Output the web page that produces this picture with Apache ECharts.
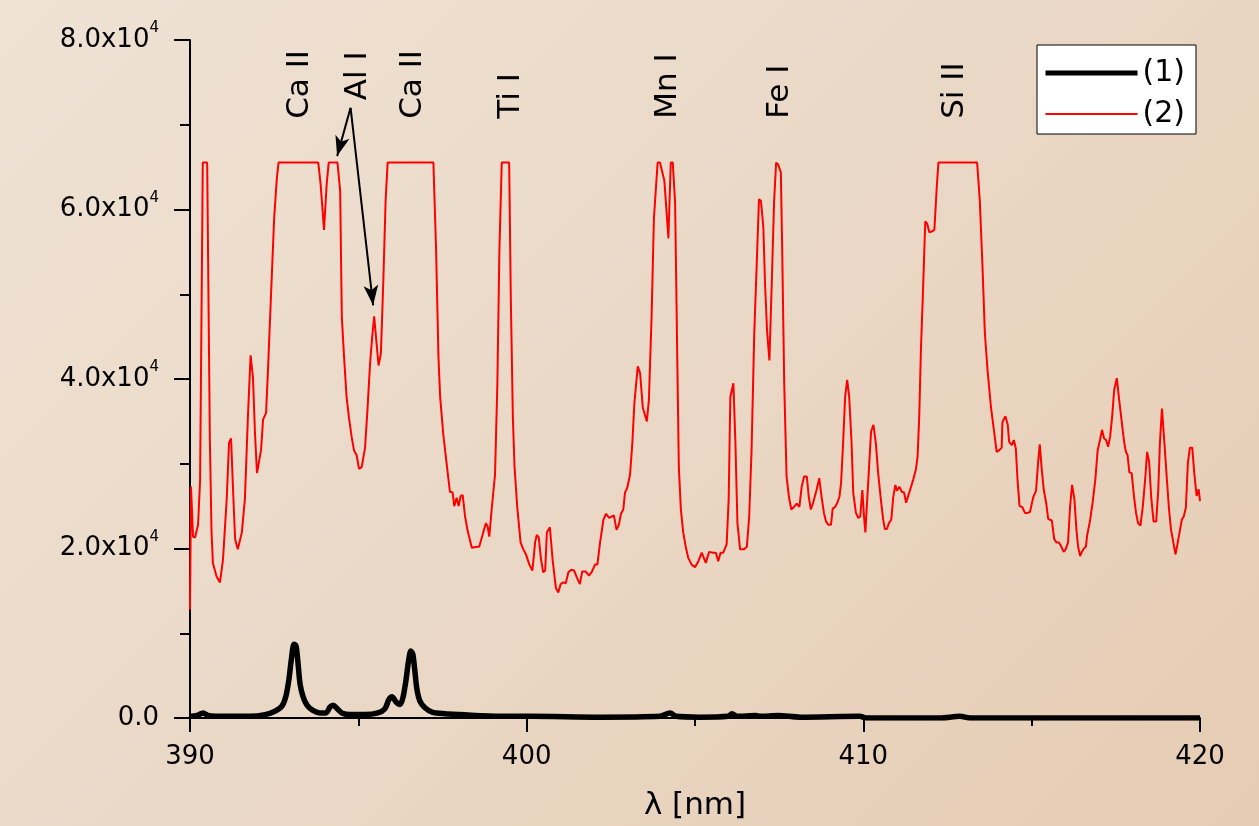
<!DOCTYPE html>
<html>
<head>
<meta charset="utf-8">
<script src="https://cdn.jsdelivr.net/npm/echarts@6/dist/echarts.min.js"></script>
<style>
html, body { margin: 0; padding: 0; }
#chart {
    width: 1259px;
    height: 826px;
    background: linear-gradient(135deg, #efe2d4 0%, #ead8c6 50%, #e6ccb3 100%);
}
</style>
</head>
<body>
<div id="chart"></div>
<script>
// spectrum (1): [wavelength nm, intensity]
var spectrum1 = [
    [390.00,200],[390.21,300],[390.39,600],[390.53,300],[390.74,200],[391.19,200],[391.78,200],
    [392.23,400],[392.52,800],[392.73,1400],[392.85,2600],[392.94,4600],[393.01,6900],[393.09,8700],
    [393.15,8500],[393.21,6400],[393.27,4000],[393.36,2500],[393.48,1500],[393.65,900],[393.86,600],
    [394.04,600],[394.16,1300],[394.25,1500],[394.37,1100],[394.51,600],[394.75,400],[395.20,400],
    [395.58,600],[395.79,1100],[395.91,2200],[396.00,2500],[396.12,1900],[396.24,1600],[396.33,2500],
    [396.42,4600],[396.49,6700],[396.56,7900],[396.62,7500],[396.68,5500],[396.74,3400],[396.83,2000],
    [396.98,1200],[397.19,700],[397.57,500],[398.02,400],[399.21,200],[400.10,200],[402.18,100],
    [403.96,200],[404.26,600],[404.44,200],[405.15,100],[405.98,200],[406.10,500],[406.25,200],
    [406.81,300],[406.93,200],[407.47,300],[408.12,100],[409.90,200],[410.08,0],[412.28,0],
    [412.87,200],[413.17,0],[414.06,0],[417.03,0],[420.00,0]
];

// spectrum (2): saturates at 65535
var spectrum2 = [
    [390.00,12800],[390.03,27300],[390.09,21400],[390.15,21300],[390.24,22800],[390.30,28100],[390.38,65535],
    [390.51,65535],[390.59,32800],[390.64,21900],[390.68,18300],[390.79,16700],[390.89,16000],[390.98,18700],
    [391.09,25800],[391.16,32500],[391.22,33000],[391.27,27800],[391.34,21100],[391.42,19900],[391.54,21900],
    [391.63,25800],[391.72,35500],[391.80,42800],[391.87,40200],[391.93,33600],[391.99,28900],[392.11,31600],
    [392.17,35200],[392.26,36000],[392.32,41400],[392.40,49300],[392.50,59000],[392.58,63700],[392.63,65535],
    [393.81,65535],[393.88,63000],[393.98,57600],[394.06,63000],[394.12,65535],[394.38,65535],[394.46,62200],
    [394.51,47300],[394.57,43000],[394.65,37900],[394.72,35500],[394.80,33200],[394.87,31600],[394.95,31000],
    [395.02,29400],[395.10,29600],[395.20,31900],[395.27,36300],[395.35,41900],[395.41,44900],[395.47,47400],
    [395.52,47200],[395.60,41600],[395.67,43000],[395.74,51300],[395.81,61000],[395.87,65535],[397.23,65535],
    [397.31,55200],[397.38,42600],[397.43,37900],[397.52,33600],[397.62,30100],[397.72,26700],[397.80,26600],
    [397.85,25000],[397.92,26000],[397.98,25000],[398.04,26200],[398.10,26300],[398.17,23800],[398.24,22200],
    [398.37,20100],[398.41,19900],[398.52,20200],[398.59,20200],[398.63,20100],[398.71,21900],[398.79,23000],
    [398.84,22600],[398.89,21400],[398.96,24600],[399.06,28700],[399.13,39500],[399.19,55200],[399.26,65535],
    [399.48,65535],[399.53,49300],[399.59,35500],[399.64,29600],[399.72,24900],[399.82,20700],[399.90,19900],
    [399.98,19300],[400.08,18100],[400.17,17400],[400.25,20700],[400.30,21600],[400.36,21300],[400.42,18900],
    [400.49,17200],[400.55,17400],[400.60,21900],[400.69,22500],[400.77,18700],[400.87,15300],[400.94,14800],
    [401.01,15800],[401.09,16000],[401.16,15900],[401.24,17200],[401.32,17500],[401.41,17400],[401.49,16600],
    [401.58,15800],[401.65,17300],[401.75,17300],[401.85,16800],[401.93,17200],[402.03,18100],[402.10,18100],
    [402.18,20700],[402.28,23400],[402.36,24100],[402.45,23600],[402.59,23900],[402.67,22200],[402.74,22800],
    [402.80,24100],[402.87,24600],[402.92,26600],[402.99,27200],[403.07,28700],[403.14,32500],[403.20,37200],
    [403.30,41500],[403.37,40700],[403.45,36600],[403.57,35000],[403.63,37500],[403.71,47300],[403.78,59000],
    [403.89,65535],[403.96,65535],[404.09,63400],[404.21,56600],[404.28,65535],[404.34,65535],[404.41,60700],
    [404.47,43400],[404.52,29600],[404.58,24600],[404.65,21900],[404.73,20100],[404.80,18900],[404.90,18100],
    [405.00,17800],[405.10,18500],[405.20,19500],[405.25,19500],[405.32,18300],[405.42,19600],[405.54,19500],
    [405.62,19500],[405.69,18500],[405.76,19500],[405.84,19500],[405.94,20500],[406.00,25800],[406.05,37900],
    [406.14,39500],[406.20,32500],[406.26,23000],[406.34,19900],[406.46,19900],[406.54,20200],[406.61,23800],
    [406.68,31600],[406.76,45400],[406.83,53200],[406.90,61200],[406.96,61000],[407.03,57900],[407.08,51300],
    [407.14,45700],[407.21,42200],[407.28,51300],[407.35,61000],[407.41,65535],[407.47,65300],[407.55,64400],
    [407.59,55200],[407.65,39500],[407.72,28500],[407.79,26100],[407.86,24600],[407.94,24900],[408.02,25300],
    [408.10,24900],[408.17,27300],[408.24,28500],[408.32,28500],[408.38,26100],[408.44,24600],[408.51,25400],
    [408.61,26900],[408.69,28300],[408.76,26100],[408.83,24200],[408.89,23200],[408.96,22800],[409.04,22800],
    [409.09,24700],[409.16,24900],[409.23,25400],[409.29,26100],[409.34,27800],[409.40,32500],[409.46,37900],
    [409.52,39900],[409.58,37900],[409.65,32500],[409.70,26600],[409.78,24200],[409.85,23600],[409.91,23800],
    [409.97,26900],[410.02,23800],[410.06,21900],[410.12,26100],[410.17,29600],[410.23,33800],[410.30,34600],
    [410.37,32500],[410.44,28900],[410.52,25800],[410.59,23400],[410.64,22300],[410.70,22300],[410.76,23000],
    [410.83,23400],[410.89,26100],[410.95,27500],[411.00,26800],[411.07,27300],[411.14,26700],[411.21,26600],
    [411.27,25400],[411.34,26300],[411.41,27200],[411.48,28100],[411.56,29300],[411.61,30800],[411.66,35500],
    [411.71,43400],[411.78,51300],[411.84,58600],[411.90,58300],[411.96,57300],[412.03,57400],[412.11,57600],
    [412.18,62600],[412.23,65535],[413.38,65535],[413.46,61000],[413.54,53200],[413.61,45400],[413.69,41000],
    [413.79,36700],[413.89,33600],[413.96,31400],[414.04,31600],[414.11,31900],[414.13,34900],[414.22,35600],
    [414.29,34600],[414.33,32600],[414.41,32200],[414.47,32800],[414.53,31800],[414.58,28100],[414.64,25000],
    [414.72,24900],[414.80,24200],[414.88,24200],[414.95,24300],[414.99,24200],[415.05,26100],[415.13,26800],
    [415.19,30100],[415.24,32300],[415.30,29300],[415.36,26900],[415.43,25400],[415.49,23500],[415.60,23300],
    [415.67,21100],[415.74,20700],[415.81,20700],[415.87,20300],[415.95,19600],[416.01,19900],[416.08,20700],
    [416.14,24900],[416.20,27500],[416.27,25800],[416.33,22200],[416.38,20200],[416.44,19100],[416.49,19600],
    [416.55,20000],[416.61,20200],[416.65,21600],[416.73,23200],[416.81,25400],[416.89,28100],[416.96,31600],
    [417.03,32800],[417.09,34000],[417.15,33000],[417.21,32800],[417.27,32000],[417.33,33200],[417.39,35500],
    [417.45,38700],[417.53,40100],[417.60,37500],[417.68,34800],[417.75,32500],[417.80,31400],[417.85,31000],
    [417.90,29000],[417.97,28900],[418.04,26100],[418.10,24200],[418.16,23000],[418.23,22700],[418.30,24900],
    [418.37,28100],[418.43,31400],[418.49,30200],[418.55,26100],[418.62,23200],[418.70,23200],[418.76,26900],
    [418.81,32500],[418.87,36500],[418.93,33200],[419.01,28500],[419.08,24600],[419.14,22200],[419.21,20700],
    [419.27,19300],[419.33,20500],[419.38,21600],[419.46,23400],[419.52,23800],[419.58,24800],[419.64,30100],
    [419.70,31900],[419.77,31900],[419.83,28900],[419.90,26200],[419.96,27000],[420.00,25600]
];

// line identifications
var lineNames = ['Ca II', 'Al I', 'Ca II', 'Ti I', 'Mn I', 'Fe I', 'Si II'];
var lineNm = [393.27, 394.99, 396.61, 399.53, 404.20, 407.52, 412.72];
var lineBase = [70700, 72900, 70700, 70700, 70700, 70700, 70700];

// arrows from the Al I label
var arrowFrom = [394.77, 72000];
var arrowTo = [[394.37, 66300], [395.44, 48700]];

var FONT = '"DejaVu Sans", sans-serif';

var chart = echarts.init(document.getElementById('chart'));

var options = {
    animation: false,
    textStyle: { fontFamily: FONT, color: '#000' },
    grid: { left: 190, right: 59, top: 40, bottom: 107, containLabel: false },
    legend: {
        left: 1037,
        top: 45,
        orient: 'vertical',
        backgroundColor: '#fff',
        borderColor: '#000',
        borderWidth: 1,
        borderRadius: 0,
        padding: [13, 11, 5, 6],
        itemWidth: 92,
        itemHeight: 28,
        itemGap: 11,
        itemStyle: { opacity: 0 },
        textStyle: { fontFamily: FONT, fontSize: 30, color: '#000' },
        data: [
            { name: '(1)', lineStyle: { color: '#000', width: 5 } },
            { name: '(2)', lineStyle: { color: '#ff0000', width: 2 } }
        ]
    },
    xAxis: {
        type: 'value',
        min: 390,
        max: 420,
        interval: 10,
        name: 'λ [nm]',
        nameLocation: 'middle',
        nameGap: 72,
        nameTextStyle: { fontFamily: FONT, fontSize: 31, color: '#000' },
        axisLine: { lineStyle: { color: '#000', width: 2 } },
        axisTick: { show: true, inside: false, length: 14, lineStyle: { color: '#000', width: 2 } },
        minorTick: { show: true, splitNumber: 2, length: 8, lineStyle: { color: '#000', width: 2 } },
        axisLabel: { margin: 26, fontFamily: FONT, fontSize: 26, color: '#000' },
        splitLine: { show: false }
    },
    yAxis: {
        type: 'value',
        min: 0,
        max: 80000,
        interval: 20000,
        axisLine: { show: true, lineStyle: { color: '#000', width: 2 } },
        axisTick: { show: true, inside: false, length: 16, lineStyle: { color: '#000', width: 2 } },
        minorTick: { show: true, splitNumber: 2, length: 10, lineStyle: { color: '#000', width: 2 } },
        axisLabel: {
            margin: 31,
            fontFamily: FONT,
            fontSize: 26,
            color: '#000',
            lineHeight: 38,
            formatter: function (v) {
                if (v === 0) {
                    return '0.0';
                }
                return (v / 10000).toFixed(1) + 'x10{sup|4}';
            },
            rich: {
                sup: { fontFamily: FONT, fontSize: 15, color: '#000', verticalAlign: 'top', lineHeight: 38 }
            }
        },
        splitLine: { show: false }
    },
    series: [
        {
            name: '(1)',
            type: 'line',
            data: spectrum1,
            showSymbol: false,
            symbol: 'none',
            smooth: 0.3,
            z: 3,
            lineStyle: { color: '#000', width: 5.5 },
            itemStyle: { color: '#000' }
        },
        {
            name: '(2)',
            type: 'line',
            data: spectrum2,
            showSymbol: false,
            symbol: 'none',
            z: 2,
            lineStyle: { color: '#ff0000', width: 2 },
            itemStyle: { color: '#ff0000' },
            markLine: {
                silent: true,
                animation: false,
                symbol: ['none', 'arrow'],
                symbolSize: [11, 20],
                label: { show: false },
                emphasis: { disabled: true },
                lineStyle: { color: '#000', width: 2, type: 'solid' },
                data: arrowTo.map(function (to) {
                    return [{ coord: arrowFrom }, { coord: to }];
                })
            }
        }
    ]
};

chart.setOption(options);

// rotated line labels, placed from data coordinates
var labels = lineNames.map(function (name, i) {
    var p = chart.convertToPixel({ gridIndex: 0 }, [lineNm[i], lineBase[i]]);
    return {
        type: 'text',
        x: p[0],
        y: p[1],
        rotation: Math.PI / 2,
        silent: true,
        style: {
            text: name,
            font: '31px ' + FONT,
            fill: '#000',
            align: 'left',
            verticalAlign: 'middle',
            textAlign: 'left',
            textVerticalAlign: 'middle'
        }
    };
});
chart.setOption({ graphic: labels });
</script>
</body>
</html>
